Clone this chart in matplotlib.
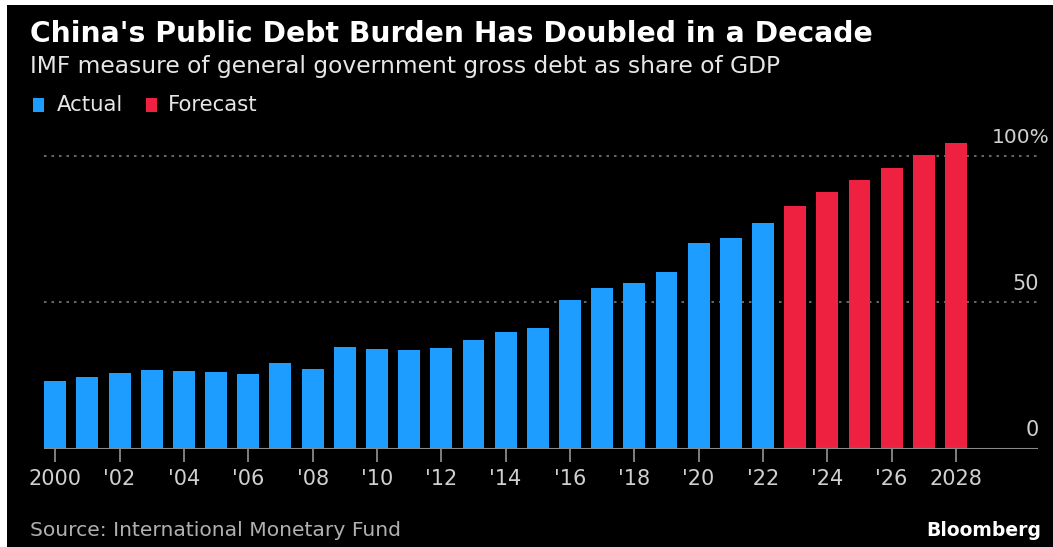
import matplotlib
matplotlib.use("Agg")
from matplotlib import pyplot as plt
from matplotlib.patches import Rectangle
import matplotlib.transforms as mtransforms
import numpy as np

years = np.arange(2000, 2029)
debt = [22.9, 24.5, 25.9, 26.7, 26.4, 26.2, 25.3, 29.1, 27.3, 34.7,
        33.9, 33.6, 34.3, 37.0, 39.9, 41.3, 50.7, 54.9, 56.6, 60.3,
        70.1, 71.8, 77.0, 82.9, 87.5, 91.8, 95.9, 100.2, 104.4]
first_forecast = 2023
tick_years = np.arange(2000, 2029, 2)
tick_labels = ['2000', "'02", "'04", "'06", "'08", "'10", "'12", "'14",
               "'16", "'18", "'20", "'22", "'24", "'26", '2028']
y_levels = [0, 50]
y_labels = ['0', '50']

blue = '#1d9dff'
red = '#ee2240'
W, H = 1053, 547

fig = plt.figure(figsize=(W / 100, H / 100), dpi=100)
fig.patch.set_facecolor('white')
# black panel, thin white border left and top
fig.patches.append(Rectangle((7 / W, 0), 1, 1 - 5 / H, transform=fig.transFigure,
                             facecolor='black', edgecolor='none', zorder=-10))

ax = fig.add_axes([44 / W, (H - 448.5) / H, 994 / W, 0.5675])
ax.set_facecolor('black')
colors = [blue if y < first_forecast else red for y in years]
ax.bar(years, debt, width=0.68, color=colors, zorder=3)

ax.set_xlim(1999.65, 2030.55)
ax.set_ylim(0, 106)
for v in [50, 100]:
    ax.axhline(v, color='#7a7a7a', lw=1.2, ls=(0, (1.5, 3)), zorder=1)
ax.axhline(0, color='#8a8a8a', lw=1.5, zorder=4)
for s in ax.spines.values():
    s.set_visible(False)
ax.set_yticks([])
ax.set_xticks(tick_years)
ax.set_xticklabels(tick_labels, color='#d0d0d0', fontsize=15)
ax.tick_params(axis='x', length=9, width=1.3, color='#8a8a8a', pad=6)

# y labels on the right, sitting above the gridlines
blend = mtransforms.blended_transform_factory(fig.transFigure, ax.transData)
lab_tr = mtransforms.offset_copy(blend, fig=fig, x=0, y=6, units='points')
for v, lab in zip(y_levels, y_labels):
    ax.text(1039 / W, v, lab, transform=lab_tr, ha='right', va='bottom',
            fontsize=15, color='#d0d0d0')
ax.text(1050 / W, 100, '100%', transform=lab_tr, ha='right', va='bottom',
        fontsize=14.5, color='#d0d0d0')

fig.text(30 / W, 1 - 34 / H, "China's Public Debt Burden Has Doubled in a Decade",
         color='white', fontsize=20.3, fontweight='bold', va='center')
fig.text(30 / W, 1 - 66 / H, "IMF measure of general government gross debt as share of GDP",
         color='#e6e6e6', fontsize=16.8, va='center')

# legend
fig.patches.append(Rectangle((33 / W, 1 - 112 / H), 11 / W, 14 / H, transform=fig.transFigure,
                             facecolor=blue, edgecolor='none'))
fig.text(57 / W, 1 - 105 / H, 'Actual', color='#e6e6e6', fontsize=15.3, va='center')
fig.patches.append(Rectangle((146 / W, 1 - 112 / H), 11 / W, 14 / H, transform=fig.transFigure,
                             facecolor=red, edgecolor='none'))
fig.text(168 / W, 1 - 105 / H, 'Forecast', color='#e6e6e6', fontsize=15.3, va='center')

fig.text(30 / W, 1 - 531 / H, 'Source: International Monetary Fund',
         color='#b0b0b0', fontsize=14.6, va='center')
fig.text(1041 / W, 1 - 530 / H, 'Bloomberg', color='white', fontsize=13.5,
         fontweight='bold', va='center', ha='right')

fig.savefig('out.png', dpi=100, facecolor=fig.get_facecolor())
